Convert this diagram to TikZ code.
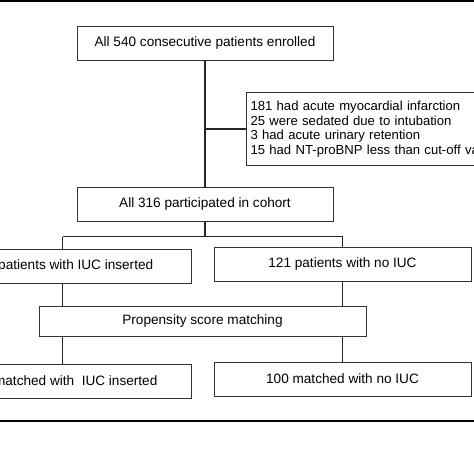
\documentclass[tikz,border=0pt]{standalone}
\usepackage{fontspec}
\setmainfont{Liberation Sans}

\begin{document}
\begin{tikzpicture}[x=1pt,y=-1pt,
  box/.style={draw=black!80,line width=1pt,minimum height=34pt,inner sep=0pt,font=\fontsize{13.6}{14.5}\selectfont},
  link/.style={draw=black!85,line width=1.1pt}]
  \useasboundingbox (0,0) rectangle (474,474);
  \clip (0,0) rectangle (474,474);
  \draw[line width=2.4pt] (0,1.2) -- (474,1.2);
  \draw[line width=2pt] (0,421) -- (474,421);

  \node[box,minimum width=256pt] (enrolled) at (205,43) {All 540 consecutive patients enrolled};
  \node[box,anchor=north west,minimum height=73pt,text width=252pt,inner xsep=4pt,align=left,font=\fontsize{13.1}{14.5}\selectfont] (excluded) at (246,92)
    {181 had acute myocardial infarction\\25 were sedated due to intubation\\3 had acute urinary retention\\15 had NT-proBNP less than cut-off value};
  \node[box,minimum width=256pt] (cohort) at (205,204) {All 316 participated in cohort};
  \node[box,minimum width=257pt] (withiuc) at (62.5,266) {195 patients with IUC inserted};
  \node[box,minimum width=257pt] (noiuc) at (342.5,264) {121 patients with no IUC};
  \node[box,minimum width=327pt,minimum height=30pt] (psm) at (202.5,321) {Propensity score matching};
  \node[box,minimum width=257pt] (matchiuc) at (62.5,381) {100 matched with~ IUC inserted};
  \node[box,minimum width=257pt] (matchno) at (342.5,379) {100 matched with no IUC};

  \draw[link] (enrolled) -- (cohort);
  \draw[link] (enrolled.south |- excluded.west) -- (excluded.west);
  \draw[link] (cohort.south) -- ++(0,15) coordinate (split);
  \draw[link] (split -| withiuc) -- (split -| noiuc);
  \draw[link] (split -| withiuc) -- (withiuc);
  \draw[link] (split -| noiuc) -- (noiuc);
  \draw[link] (withiuc) -- (withiuc |- psm.north);
  \draw[link] (noiuc) -- (noiuc |- psm.north);
  \draw[link] (withiuc |- psm.south) -- (matchiuc);
  \draw[link] (noiuc |- psm.south) -- (matchno);
\end{tikzpicture}
\end{document}
